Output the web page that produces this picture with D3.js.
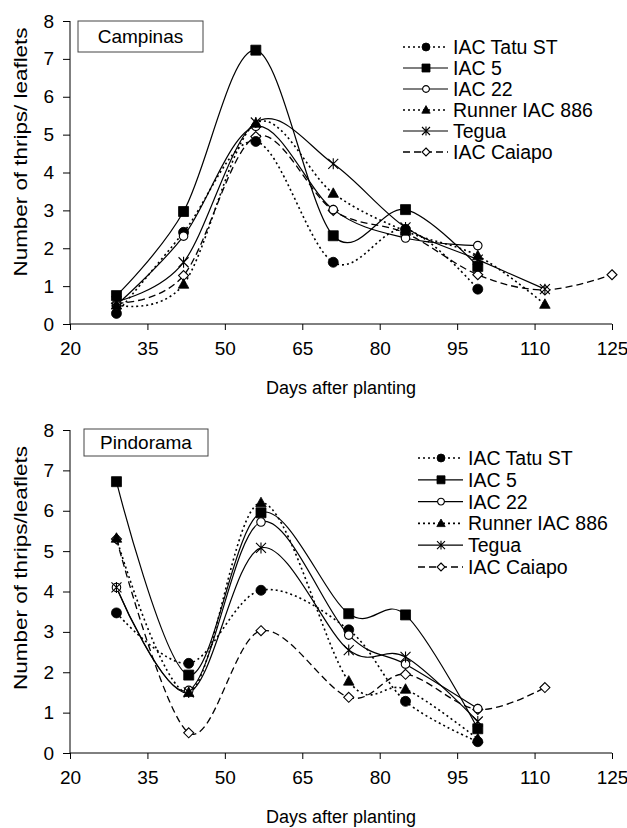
<!DOCTYPE html>
<html>
<head>
<meta charset="utf-8">
<script src="https://cdn.jsdelivr.net/npm/d3@7"></script>
<style>
  body { margin: 0; background: #fff; }
  svg text { font-family: "Liberation Sans", Arial, sans-serif; fill: #000; }
</style>
</head>
<body>
<div id="chart"></div>
<script>
// Data
const seriesNames = ['IAC Tatu ST', 'IAC 5', 'IAC 22', 'Runner IAC 886', 'Tegua', 'IAC Caiapo'];
const xTicks = [20, 35, 50, 65, 80, 95, 110, 125];
const yTicks = [0, 1, 2, 3, 4, 5, 6, 7, 8];

// Campinas
const campinasDays = [29, 42, 56, 71, 85, 99, 112, 125];
const campinasTatu = [0.28, 2.42, 4.82, 1.63, 2.5, 0.92];
const campinasIac5 = [0.75, 2.97, 7.23, 2.33, 3.02, 1.52];
const campinasIac22 = [0.5, 2.32, 5.22, 3.02, 2.27, 2.07];
const campinasRunner = [0.5, 1.05, 5.3, 3.45, 2.45, 1.8, 0.52];
const campinasTegua = [0.6, 1.63, 5.32, 4.23, 2.55, 1.7, 0.92];
const campinasCaiapo = [0.55, 1.28, 4.95, 3.0, 2.4, 1.3, 0.9, 1.3];

// Pindorama
const pindoramaDays = [29, 43, 57, 74, 85, 99, 112];
const pindoramaTatu = [3.47, 2.22, 4.03, 3.05, 1.28, 0.28];
const pindoramaIac5 = [6.72, 1.93, 5.95, 3.45, 3.42, 0.6];
const pindoramaIac22 = [4.1, 1.55, 5.72, 2.92, 2.2, 1.1];
const pindoramaRunner = [5.32, 1.5, 6.2, 1.78, 1.58, 0.35];
const pindoramaTegua = [4.1, 1.5, 5.08, 2.55, 2.38, 0.78];
const pindoramaCaiapo = [5.3, 0.5, 3.03, 1.38, 1.95, 1.08, 1.62];

// Line / marker styles per series (same order as seriesNames)
const styles = [
  { dash: '2,3', width: 1.6, marker: 'circle', fill: '#000' },
  { dash: null, width: 1.2, marker: 'square', fill: '#000' },
  { dash: null, width: 1.2, marker: 'circle', fill: '#fff', open: true },
  { dash: '2,3', width: 1.6, marker: 'triangle', fill: '#000' },
  { dash: null, width: 1.2, marker: 'star', fill: 'none' },
  { dash: '7,4', width: 1.3, marker: 'diamond', fill: '#fff' }
];
// diamonds sit under the other markers where they overlap
const markerOrder = [5, 0, 1, 2, 3, 4];

const W = 627, H = 828;
const svg = d3.select('#chart').append('svg')
  .attr('width', W)
  .attr('height', H);

function markerPath(type, s) {
  if (type === 'square') return `M${-s},${-s}H${s}V${s}H${-s}Z`;
  if (type === 'triangle') return `M0,${-s * 1.1}L${s * 1.05},${s * 0.8}L${-s * 1.05},${s * 0.8}Z`;
  if (type === 'diamond') return `M0,${-s}L${s},0L0,${s}L${-s},0Z`;
  if (type === 'star') return `M${-s},${-s}L${s},${s}M${s},${-s}L${-s},${s}M0,${-s * 1.1}L0,${s * 1.1}`;
  return d3.symbol(d3.symbolCircle, Math.PI * s * s)();
}

function drawMarker(g, st, x, y, s) {
  const r = st.open ? s * 0.85 : s;
  g.append('path')
    .attr('transform', `translate(${x},${y})`)
    .attr('d', markerPath(st.marker, r))
    .attr('fill', st.fill)
    .attr('stroke', '#000')
    .attr('stroke-width', st.open || st.marker === 'diamond' || st.marker === 'star' ? 1.1 : 0.8);
}

function drawPanel(cfg) {
  const x = d3.scaleLinear().domain([20, 125]).range([70, 612]);
  const y = d3.scaleLinear().domain([0, 8]).range(cfg.yRange);
  const g = svg.append('g');

  // Axes
  g.append('g')
    .attr('transform', `translate(0,${cfg.yRange[0]})`)
    .call(d3.axisBottom(x).tickValues(xTicks).tickSize(6).tickPadding(12))
    .call(a => a.select('.domain').attr('d', `M70,0H612`))
    .call(a => a.selectAll('text').attr('font-size', 19).attr('font-family', '"Liberation Sans", Arial, sans-serif'));

  g.append('g')
    .attr('transform', 'translate(70,0)')
    .call(d3.axisLeft(y).tickValues(yTicks).tickSize(7).tickPadding(9))
    .call(a => a.select('.domain').attr('d', `M0,${cfg.yRange[0]}V${cfg.yRange[1]}`))
    .call(a => a.selectAll('text').attr('font-size', 19).attr('font-family', '"Liberation Sans", Arial, sans-serif'));

  g.selectAll('.domain, .tick line').attr('stroke', '#000').attr('stroke-width', 1);

  // Axis titles
  g.append('text')
    .attr('x', 341)
    .attr('y', cfg.yRange[0] + 70)
    .attr('text-anchor', 'middle')
    .attr('font-size', 18)
    .text('Days after planting');

  g.append('text')
    .attr('transform', `translate(27,${cfg.yLabelCenter}) rotate(-90)`)
    .attr('text-anchor', 'middle')
    .attr('font-size', 19)
    .attr('textLength', cfg.yLabelLength)
    .attr('lengthAdjust', 'spacingAndGlyphs')
    .text(cfg.yLabel);

  // Site box
  g.append('rect')
    .attr('x', cfg.box[0]).attr('y', cfg.box[1])
    .attr('width', cfg.box[2]).attr('height', cfg.box[3])
    .attr('fill', '#fff')
    .attr('stroke', '#444')
    .attr('stroke-width', 1);
  g.append('text')
    .attr('x', cfg.box[0] + cfg.box[2] / 2)
    .attr('y', cfg.box[1] + cfg.box[3] / 2)
    .attr('dy', '0.36em')
    .attr('text-anchor', 'middle')
    .attr('font-size', 19)
    .text(cfg.site);

  // Smoothed series lines, then markers on top
  const line = d3.line()
    .x(d => x(d.day))
    .y(d => y(d.value))
    .curve(d3.curveCardinal.tension(0));

  const data = cfg.series.map(vals => vals.map((v, i) => ({ day: cfg.days[i], value: v })));

  data.forEach((pts, i) => {
    g.append('path')
      .datum(pts)
      .attr('fill', 'none')
      .attr('stroke', '#000')
      .attr('stroke-width', styles[i].width)
      .attr('stroke-dasharray', styles[i].dash)
      .attr('d', line);
  });

  markerOrder.forEach(i => {
    data[i].forEach(d => drawMarker(g, styles[i], x(d.day), y(d.value), 5));
  });

  // Legend
  const lg = g.append('g');
  seriesNames.forEach((name, i) => {
    const ly = cfg.legend.y + i * cfg.legend.step;
    lg.append('line')
      .attr('x1', cfg.legend.x).attr('x2', cfg.legend.x + 45)
      .attr('y1', ly).attr('y2', ly)
      .attr('stroke', '#000')
      .attr('stroke-width', styles[i].width)
      .attr('stroke-dasharray', styles[i].dash);
    drawMarker(lg, styles[i], cfg.legend.x + 23, ly, 4);
    lg.append('text')
      .attr('x', cfg.legend.x + 50)
      .attr('y', ly)
      .attr('dy', '0.36em')
      .attr('font-size', 19.5)
      .text(name);
  });
}

drawPanel({
  site: 'Campinas',
  yRange: [324, 21],
  days: campinasDays,
  series: [campinasTatu, campinasIac5, campinasIac22, campinasRunner, campinasTegua, campinasCaiapo],
  yLabel: 'Number of thrips/ leaflets',
  yLabelCenter: 152,
  yLabelLength: 249,
  box: [78, 21, 125, 31],
  legend: { x: 403, y: 47, step: 21 }
});

drawPanel({
  site: 'Pindorama',
  yRange: [753, 430],
  days: pindoramaDays,
  series: [pindoramaTatu, pindoramaIac5, pindoramaIac22, pindoramaRunner, pindoramaTegua, pindoramaCaiapo],
  yLabel: 'Number of thrips/leaflets',
  yLabelCenter: 568,
  yLabelLength: 244,
  box: [84, 429, 124, 27],
  legend: { x: 418, y: 458, step: 21.8 }
});
</script>
</body>
</html>
